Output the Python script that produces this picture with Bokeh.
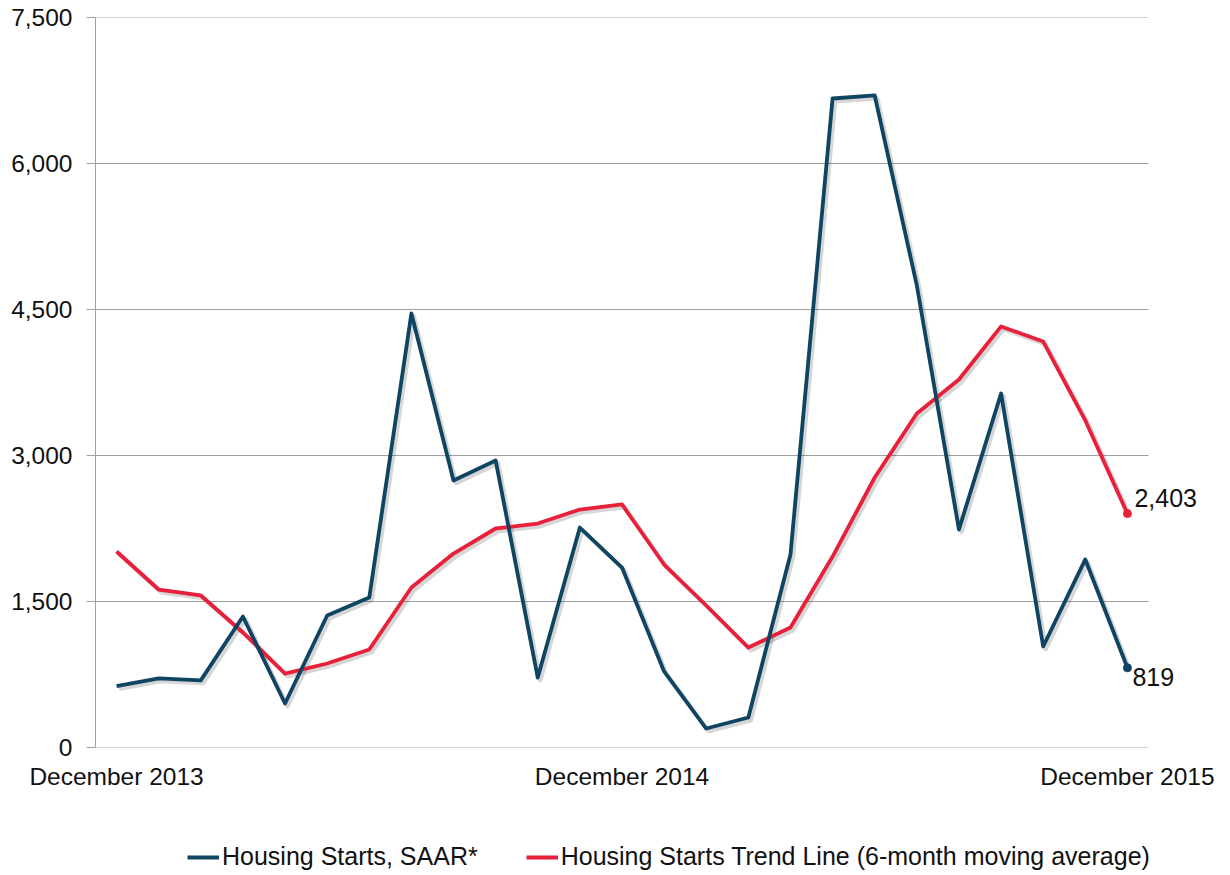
from bokeh.plotting import figure
from bokeh.layouts import column
from bokeh.models import (ColumnDataSource, Range1d, FixedTicker, NumeralTickFormatter,
                          Legend, LegendItem)
from bokeh.transform import dodge
from bokeh.core.properties import value
from bokeh.embed import file_html
from bokeh.resources import INLINE

months = ["December 2013", "January 2014", "February 2014", "March 2014", "April 2014",
          "May 2014", "June 2014", "July 2014", "August 2014", "September 2014",
          "October 2014", "November 2014", "December 2014", "January 2015", "February 2015",
          "March 2015", "April 2015", "May 2015", "June 2015", "July 2015", "August 2015",
          "September 2015", "October 2015", "November 2015", "December 2015"]
saar = [630, 710, 690, 1346, 452, 1356, 1541, 4459, 2743, 2949, 719, 2260, 1849,
        781, 195, 308, 1983, 6668, 6699, 4747, 2240, 3637, 1038, 1932, 819]
trend = [2014, 1623, 1562, 1182, 760, 863, 1007, 1644, 1993, 2250, 2301, 2445, 2497,
         1880, 1459, 1027, 1233, 1962, 2774, 3432, 3781, 4326, 4171, 3360, 2403]
series_names = ["Housing Starts, SAAR*", "Housing Starts Trend Line (6-month moving average)"]
tick_labels = {0: "December 2013", 12: "December 2014", 24: "December 2015"}
y_ticks = [0, 1500, 3000, 4500, 6000, 7500]

BLUE = "#0F4462"
RED = "#E8203A"
GRID = "#A0A0A0"
TEXT = "#111111"
FONT = "Liberation Sans"
AX_FS = "24.5px"
LB_FS = "25px"
LW = 3.8
X_PAD_RIGHT = 1.71  # extra room (in category widths) for the end labels

n = len(months)
idx = list(range(n))
src = ColumnDataSource(dict(x=idx, saar=saar, trend=trend, month=months))

p = figure(width=1222, height=836, output_backend="svg", toolbar_location=None,
           x_range=Range1d(-0.5, n - 0.5 + X_PAD_RIGHT), y_range=Range1d(0, 7500),
           min_border_left=95, min_border_right=2, min_border_top=17, min_border_bottom=89)
p.outline_line_color = None
p.background_fill_color = "white"

# axes
p.yaxis.ticker = FixedTicker(ticks=y_ticks)
p.yaxis.formatter = NumeralTickFormatter(format="0,0")
p.yaxis.major_label_text_font = FONT
p.yaxis.major_label_text_font_size = AX_FS
p.yaxis.major_label_text_color = TEXT
p.yaxis.major_tick_out = 9
p.yaxis.major_tick_in = 0
p.yaxis.minor_tick_line_color = None
p.yaxis.major_tick_line_color = GRID
p.yaxis.axis_line_color = GRID
p.yaxis.major_label_standoff = 14

p.xaxis.ticker = FixedTicker(ticks=list(tick_labels.keys()))
p.xaxis.major_label_overrides = tick_labels
p.xaxis.major_label_text_font = FONT
p.xaxis.major_label_text_font_size = AX_FS
p.xaxis.major_label_text_color = TEXT
p.xaxis.major_tick_line_color = None
p.xaxis.minor_tick_line_color = None
p.xaxis.axis_line_color = None
p.xaxis.major_label_standoff = 9

# horizontal grid lines only over the data area
p.xgrid.grid_line_color = None
p.ygrid.grid_line_color = None
p.segment(x0=[-0.5] * len(y_ticks), x1=[n - 0.5] * len(y_ticks), y0=y_ticks, y1=y_ticks,
          line_color=GRID, line_width=1)

# shadows
for col in ("trend", "saar"):
    p.line(x=dodge("x", 0.06, range=p.x_range), y=dodge(col, -28, range=p.y_range),
           source=src, line_color="#000000", line_alpha=0.16, line_width=LW + 0.6,
           line_join="round")

p.line("x", "trend", source=src, line_color=RED, line_width=LW, line_join="round")
p.line("x", "saar", source=src, line_color=BLUE, line_width=LW, line_join="round")

# end markers + labels
last = n - 1
p.scatter([idx[last]], [trend[last]], size=8, color=RED)
p.scatter([idx[last]], [saar[last]], size=8, color=BLUE)
p.text([idx[last]], [trend[last]], text=[f"{trend[last]:,}"], x_offset=7, y_offset=-7,
       text_font=value(FONT), text_font_size=LB_FS, text_color=TEXT,
       text_baseline="bottom", text_align="left")
p.text([idx[last]], [saar[last]], text=[f"{saar[last]:,}"], x_offset=5, y_offset=0,
       text_font=value(FONT), text_font_size=LB_FS, text_color=TEXT,
       text_baseline="top", text_align="left")

# legend strip below the chart (its series drawn outside its visible range)
lg = figure(width=1222, height=36, output_backend="svg", toolbar_location=None,
            x_axis_location=None, y_axis_location=None,
            x_range=Range1d(-0.5, n - 0.5), y_range=Range1d(-2, -1),
            min_border=0, min_border_left=0, min_border_right=0,
            min_border_top=0, min_border_bottom=0)
lg.outline_line_color = None
lg.grid.visible = False
l_saar = lg.line("x", "saar", source=src, line_color=BLUE, line_width=LW)
l_trend = lg.line("x", "trend", source=src, line_color=RED, line_width=LW)
legend = Legend(items=[LegendItem(label=series_names[0], renderers=[l_saar]),
                       LegendItem(label=series_names[1], renderers=[l_trend])],
                orientation="horizontal", location=(92, 1),
                label_text_font=FONT, label_text_font_size=LB_FS, label_text_color=TEXT,
                glyph_width=32, glyph_height=24, label_standoff=3, spacing=48,
                padding=0, margin=0, border_line_color=None, background_fill_alpha=0)
lg.add_layout(legend, "center")

layout = column(p, lg, spacing=0)
open("out.html", "w").write(file_html(layout, INLINE))
